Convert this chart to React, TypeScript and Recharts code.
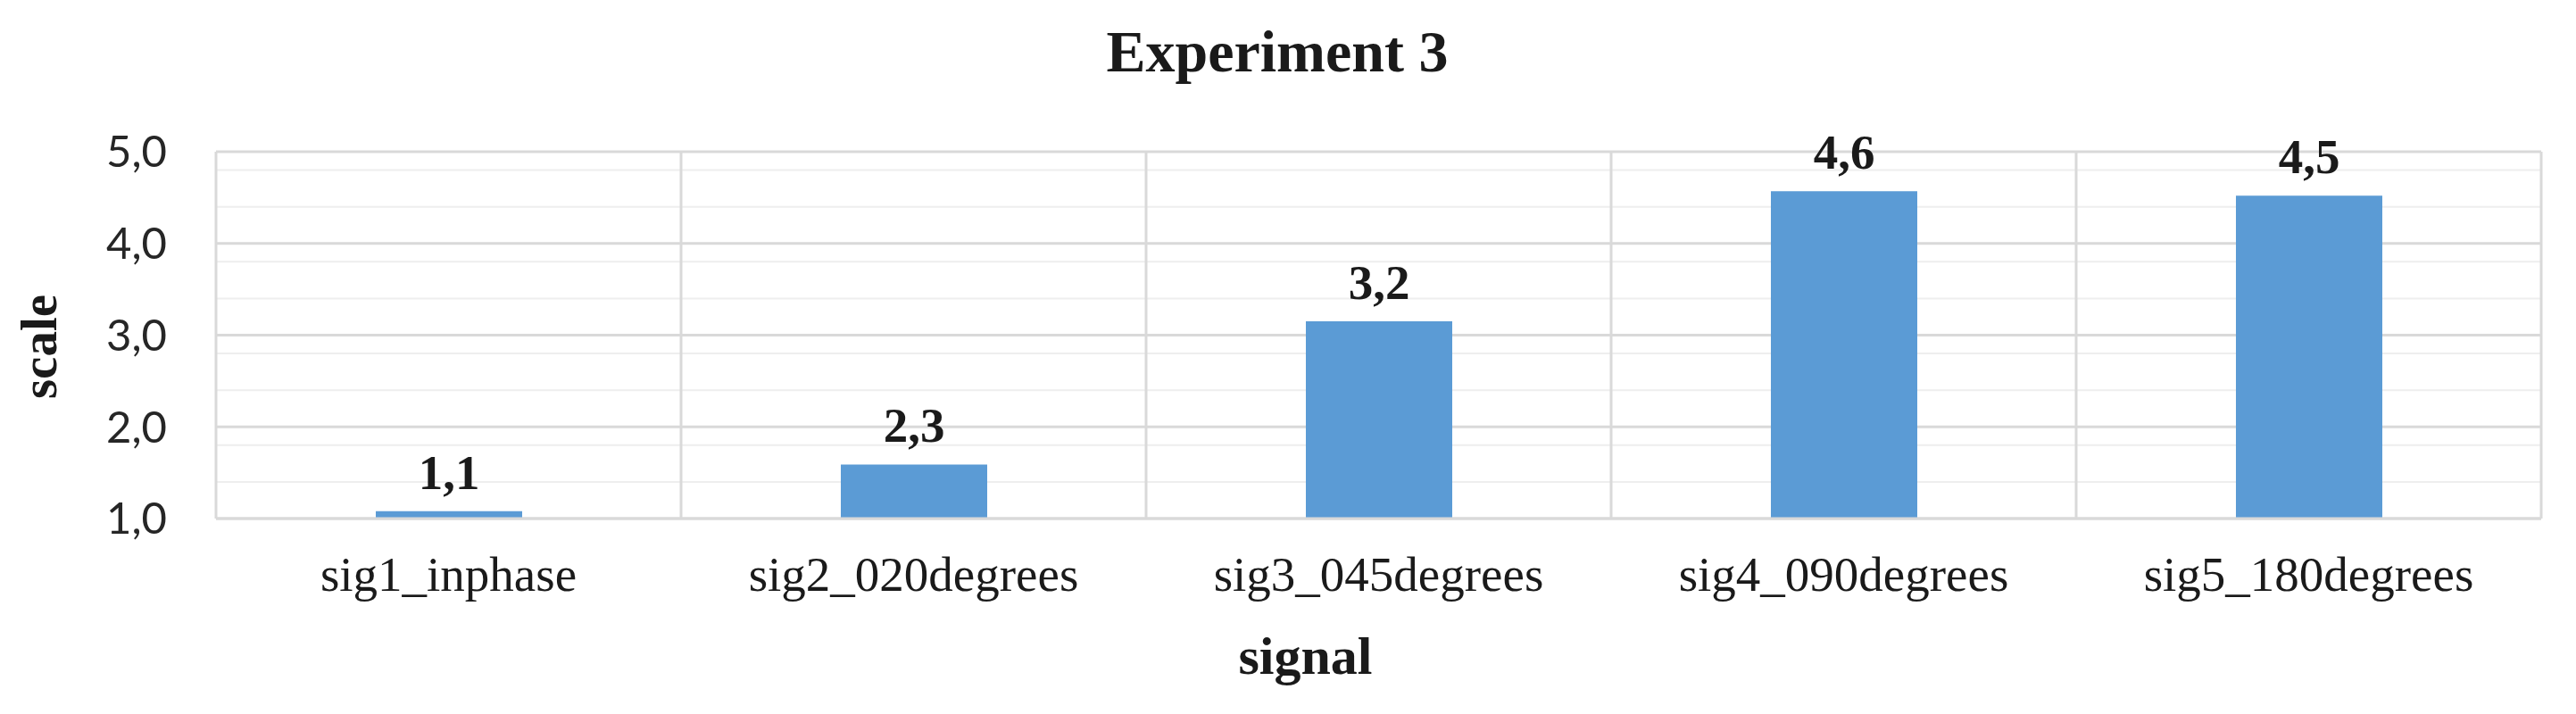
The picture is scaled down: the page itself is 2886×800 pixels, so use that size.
import { BarChart, Bar, XAxis, YAxis, CartesianGrid, LabelList } from 'recharts';

document.body.style.margin = '0';

const signals = ['sig1_inphase', 'sig2_020degrees', 'sig3_045degrees', 'sig4_090degrees', 'sig5_180degrees'];
const scaleValues = [1.08, 1.59, 3.15, 4.57, 4.52];
// the printed labels do not all agree with the bar heights, so they are kept apart
const valueLabels = ['1,1', '2,3', '3,2', '4,6', '4,5'];
const majorTicks = [1, 2, 3, 4, 5];
const minorTicks = [1.2, 1.4, 1.6, 1.8, 2.2, 2.4, 2.6, 2.8, 3.2, 3.4, 3.6, 3.8, 4.2, 4.4, 4.6, 4.8];

const data = signals.map((signal, i) => ({
  signal,
  scale: scaleValues[i],
  label: valueLabels[i],
}));

const SERIF = '"Liberation Serif", "Times New Roman", serif';
const SANS = 'Lato, "Open Sans", sans-serif';

// vertical grid lines sit on the category boundaries, not on the tick centres
const boundaryLines = ({ offset }: any) => {
  const band = offset.width / signals.length;
  return [...signals.map((_, i) => offset.left + band * i), offset.left + offset.width];
};

function ScaleTitle({ viewBox }: any) {
  const x = viewBox.x + 63;
  const y = viewBox.y + viewBox.height / 2 + 13;
  return (
    <text
      x={x}
      y={y}
      transform={`rotate(-90, ${x}, ${y})`}
      textAnchor="middle"
      fontFamily={SERIF}
      fontWeight="bold"
      fontSize={57}
      fill="#1a1a1a"
    >
      scale
    </text>
  );
}

function SignalTitle({ viewBox }: any) {
  const x = viewBox.x + viewBox.width / 2 - 82;
  const y = viewBox.y + 174;
  return (
    <text x={x} y={y} textAnchor="middle" fontFamily={SERIF} fontWeight="bold" fontSize={60} fill="#1a1a1a">
      signal
    </text>
  );
}

export default function App() {
  return (
    <div style={{ position: 'relative', width: 2886, height: 800, background: '#fff' }}>
      <div
        style={{
          position: 'absolute',
          left: 0,
          top: 25,
          width: 2862,
          textAlign: 'center',
          fontFamily: SERIF,
          fontWeight: 'bold',
          fontSize: 66,
          lineHeight: '66px',
          color: '#1a1a1a',
        }}
      >
        Experiment 3
      </div>
      <BarChart width={2886} height={800} data={data} margin={{ top: 170, right: 39, bottom: 0, left: 0 }}>
        <CartesianGrid vertical={false} horizontalValues={minorTicks} stroke="#eeeeee" strokeWidth={2} />
        <CartesianGrid vertical={false} horizontalValues={majorTicks} stroke="#d9d9d9" strokeWidth={3} />
        <CartesianGrid horizontal={false} verticalCoordinatesGenerator={boundaryLines} stroke="#d9d9d9" strokeWidth={3} />
        <XAxis
          dataKey="signal"
          height={219}
          interval={0}
          tickLine={false}
          tickSize={0}
          tickMargin={42}
          axisLine={{ stroke: '#d9d9d9', strokeWidth: 3 }}
          tick={{ fontFamily: SERIF, fontSize: 55, fill: '#1a1a1a' }}
          label={<SignalTitle />}
        />
        <YAxis
          domain={[1, 5]}
          ticks={majorTicks}
          width={242}
          axisLine={false}
          tickLine={false}
          tickSize={0}
          tickMargin={55}
          tickFormatter={(v: number) => v.toFixed(1).replace('.', ',')}
          tick={{ fontFamily: SANS, fontSize: 49, fill: '#262626' }}
          label={<ScaleTitle />}
        />
        <Bar dataKey="scale" fill="#5B9BD5" barSize={164} isAnimationActive={false}>
          <LabelList
            dataKey="label"
            position="top"
            offset={25}
            style={{ fontFamily: SERIF, fontWeight: 'bold', fontSize: 55, fill: '#1a1a1a' }}
          />
        </Bar>
      </BarChart>
    </div>
  );
}
